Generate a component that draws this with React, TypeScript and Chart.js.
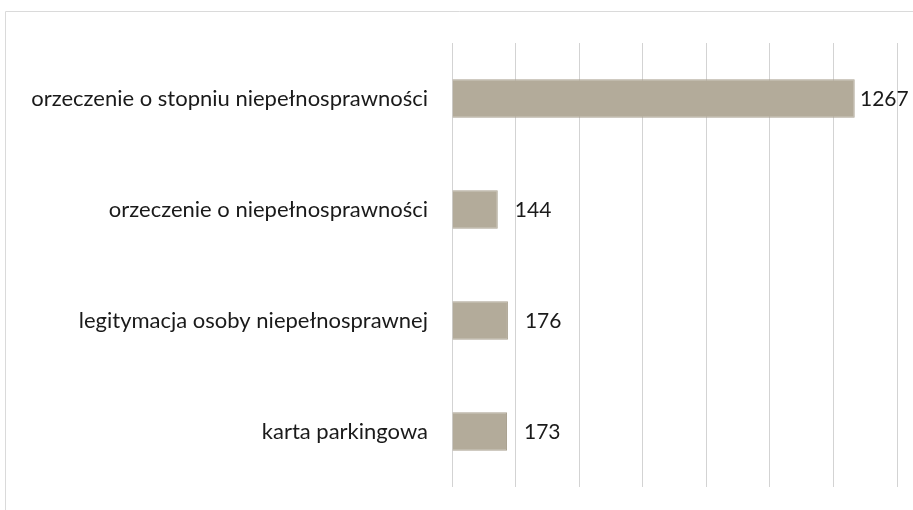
import React, { useEffect, useRef } from "react";
import { Chart, registerables } from "chart.js";

Chart.register(...registerables);

const categories = [
  "orzeczenie o stopniu niepełnosprawności",
  "orzeczenie o niepełnosprawności",
  "legitymacja osoby niepełnosprawnej",
  "karta parkingowa",
];
const values = [1267, 144, 176, 173];
const axisMin = 0;
const axisMax = 1400;
const axisStep = 200;

const FONT = "Lato, 'Open Sans', sans-serif";

const framePlugin = {
  id: "frame",
  beforeDraw(chart: any) {
    const ctx = chart.ctx;
    ctx.save();
    ctx.strokeStyle = "#dadada";
    ctx.lineWidth = 1;
    ctx.beginPath();
    ctx.moveTo(5.5, chart.height);
    ctx.lineTo(5.5, 11.5);
    ctx.lineTo(chart.width, 11.5);
    ctx.stroke();
    ctx.restore();
  },
};

const labelPlugin = {
  id: "barLabels",
  afterDatasetsDraw(chart: any) {
    const ctx = chart.ctx;
    const meta = chart.getDatasetMeta(0);
    ctx.save();
    ctx.font = `21px ${FONT}`;
    ctx.fillStyle = "#1a1a1a";
    ctx.textAlign = "left";
    ctx.textBaseline = "middle";
    meta.data.forEach((bar: any, i: number) => {
      const x = Math.min(bar.x + 17, chart.width - 53);
      ctx.fillText(String(chart.data.datasets[0].data[i]), x, bar.y + 1);
    });
    ctx.restore();
  },
};

export default function App() {
  const ref = useRef<HTMLCanvasElement | null>(null);
  useEffect(() => {
    if (!ref.current) return;
    const chart = new Chart(ref.current, {
      type: "bar",
      data: {
        labels: categories,
        datasets: [
          {
            data: values,
            backgroundColor: "#b3ab9a",
            borderColor: "#aaa291",
            borderWidth: 1,
            barPercentage: 0.345,
            categoryPercentage: 1,
          },
        ],
      },
      options: {
        indexAxis: "y",
        responsive: false,
        animation: false,
        layout: { padding: { top: 43, bottom: 23, right: 16, left: 0 } },
        plugins: {
          legend: { display: false },
          tooltip: { enabled: false },
        },
        scales: {
          x: {
            min: axisMin,
            max: axisMax,
            ticks: { display: false, stepSize: axisStep },
            grid: { color: "#d3d3d3", drawTicks: false },
            border: { display: false },
            afterFit: (s: any) => {
              s.height = 0;
              s.paddingLeft = 0;
              s.paddingRight = 0;
            },
          },
          y: {
            ticks: {
              color: "#1a1a1a",
              font: { family: FONT, size: 22 },
              padding: 24,
            },
            grid: { display: false, drawTicks: false },
            border: { display: false },
            afterFit: (s: any) => {
              s.width = 452;
              s.paddingTop = 0;
              s.paddingBottom = 0;
            },
          },
        },
      },
      plugins: [framePlugin, labelPlugin],
    });
    return () => chart.destroy();
  }, []);
  return (
    <div style={{ position: "fixed", left: 0, top: 0, width: 913, height: 510, background: "#fff" }}>
      <canvas ref={ref} width={913} height={510} style={{ width: 913, height: 510 }} />
    </div>
  );
}
